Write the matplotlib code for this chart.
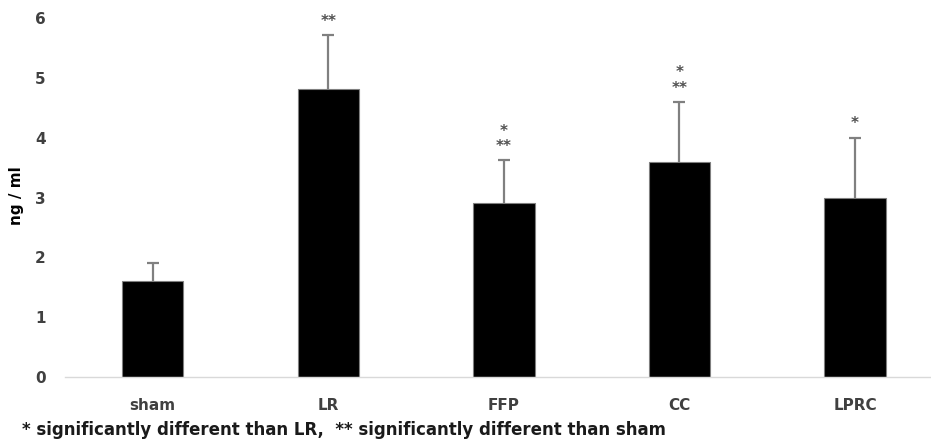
import matplotlib
matplotlib.use("Agg")
import matplotlib.pyplot as plt
import numpy as np

categories = ["sham", "LR", "FFP", "CC", "LPRC"]
means = [1.6, 4.82, 2.9, 3.6, 3.0]
errors = [0.3, 0.9, 0.72, 1.0, 1.0]
marks = ["", "**", "*\n**", "*\n**", "*"]
footnote = "* significantly different than LR,  ** significantly different than sham"
yticks = [0, 1, 2, 3, 4, 5, 6]

FONT = ["DejaVu Sans"]
plt.rcParams["font.family"] = FONT
TXT = "#404040"

W, H = 931, 445
fig = plt.figure(figsize=(W / 100, H / 100), dpi=100)
left, right, top, bottom = 65, 931, 18, 377
ax = fig.add_axes([left / W, 1 - bottom / H, (right - left) / W, (bottom - top) / H])

x = list(range(len(categories)))
ax.bar(x, means, width=0.35, color="black", edgecolor="#7f7f7f", linewidth=0.8, zorder=2)
eb = ax.errorbar(x, means, yerr=[[0] * len(errors), errors], fmt="none",
                 ecolor="#808080", elinewidth=1.6, capsize=4, capthick=1.6, zorder=3)
for cl in eb[1]:
    if np.allclose(cl.get_ydata(), means):
        cl.set_visible(False)

for xi, m, e, lab in zip(x, means, errors, marks):
    if lab:
        ax.annotate(lab, (xi, m + e), xytext=(0, 4.5), textcoords="offset points",
                    ha="center", va="bottom", fontsize=11, fontweight="bold",
                    color="#505050", linespacing=1.05)

ax.set_xlim(-0.5, 4.433)
ax.set_ylim(0, 6)
ax.set_yticks(yticks)
ax.set_xticks(x)
ax.set_xticklabels(categories)
for s in ["top", "right", "left"]:
    ax.spines[s].set_visible(False)
ax.spines["bottom"].set_color("#d9d9d9")
ax.spines["bottom"].set_linewidth(1.0)
ax.tick_params(axis="both", length=0, labelsize=11, labelcolor=TXT)
ax.tick_params(axis="y", pad=14)
ax.tick_params(axis="x", pad=15)
for t in ax.get_xticklabels() + ax.get_yticklabels():
    t.set_fontweight("bold")

fig.text(17 / W, 1 - 196 / H, "ng / ml", rotation=90, ha="center", va="center",
         fontsize=11, fontweight="bold", color="black")
fig.text(22 / W, 1 - 430 / H, footnote, ha="left", va="center",
         fontsize=12, fontweight="bold", color="#1a1a1a")

fig.savefig("out.png", dpi=100)
